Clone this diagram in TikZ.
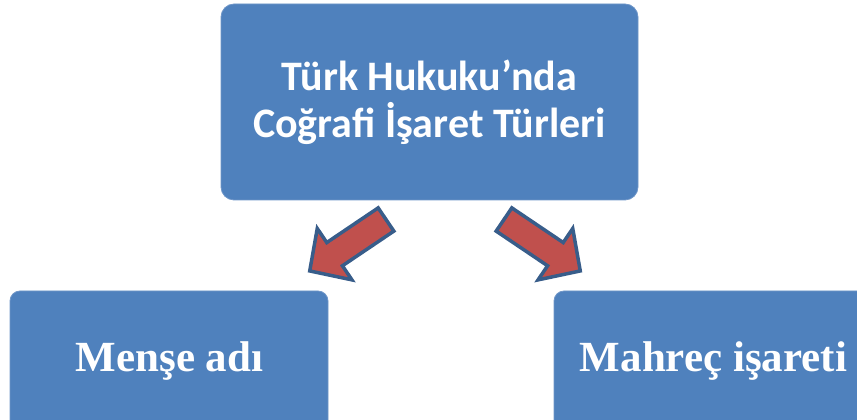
\documentclass[tikz,border=0pt]{standalone}
\usepackage{fontspec}
\setmainfont{Liberation Serif}
\newfontfamily\calib{Carlito}
\definecolor{boxblue}{HTML}{4F81BD}
\definecolor{boxedge}{HTML}{6F96C8}
\definecolor{arrred}{HTML}{C0504D}
\definecolor{arredge}{HTML}{385D8A}
\tikzset{
  bluebox/.style={fill=boxblue, draw=boxedge, line width=0.8pt, rounded corners=13pt},
  toptext/.style={text=white, font=\calib\bfseries\fontsize{42}{47}\selectfont, align=center},
  bottext/.style={text=white, font=\bfseries\fontsize{43}{50}\selectfont},
  blockarrow/.style={fill=arrred, draw=arredge, line width=3.5pt, line join=miter},
}
\begin{document}
\begin{tikzpicture}[x=1pt,y=1pt]
\useasboundingbox (0,0) rectangle (857,420);
\clip (0,0) rectangle (857,420);
% boxes
\draw[bluebox] (221,220) rectangle (638,416);
\node[toptext] (top) at (429.5,318) {Türk Hukuku’nda\\Coğrafi İşaret Türleri};
\draw[bluebox, rounded corners=10pt] (10,-30) rectangle (328,129);
\node[bottext] (mense) at (169.5,59) {Menşe adı};
\draw[bluebox, rounded corners=10pt] (554,-30) rectangle (880,129);
\node[bottext] (mahrec) at (713.5,59) {Mahreç işareti};
% block arrows
\begin{scope}[shift={(386,200.5)}, rotate=214]
  \draw[blockarrow] (0,-14) -- (62,-14) -- (62,-31) -- (92,0) -- (62,31) -- (62,14) -- (0,14) -- cycle;
\end{scope}
\begin{scope}[shift={(504,200.5)}, rotate=326]
  \draw[blockarrow] (0,-14) -- (62,-14) -- (62,-31) -- (92,0) -- (62,31) -- (62,14) -- (0,14) -- cycle;
\end{scope}
\end{tikzpicture}
\end{document}
